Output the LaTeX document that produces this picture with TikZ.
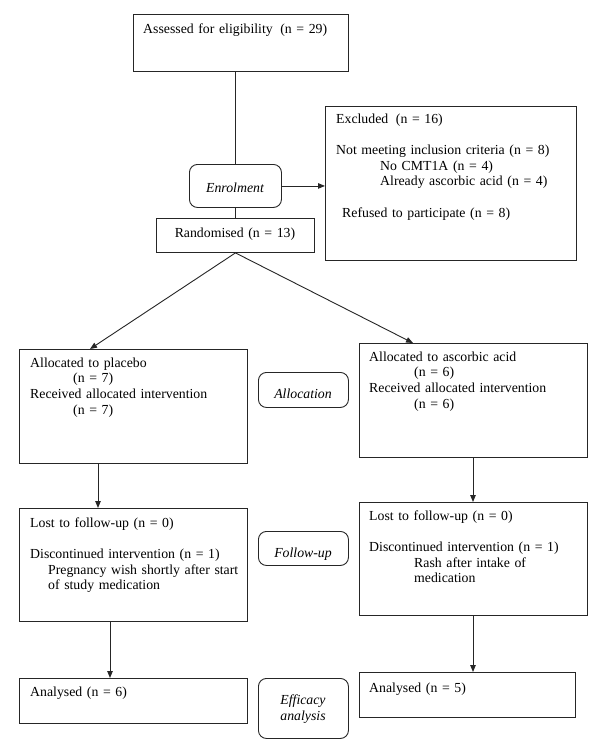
\documentclass[tikz,border=0pt]{standalone}
\usepackage{fontspec}
\setmainfont{Liberation Serif}
\usetikzlibrary{arrows.meta}
\begin{document}
\begin{tikzpicture}[x=1pt,y=-1pt,
  box/.style={draw=black!85, line width=0.9pt, inner sep=0pt, anchor=north west},
  rbox/.style={box, rounded corners=8pt},
  txt/.style={inner sep=0pt, anchor=base west, align=left, text width=#1, font=\fontsize{13.8}{15.7}\selectfont},
  lab/.style={inner sep=0pt, anchor=base, align=center, font=\fontsize{13.8}{15.7}\selectfont\itshape},
  conn/.style={draw=black!85, line width=0.9pt},
  arr/.style={conn, -{Triangle[length=7pt,width=5.5pt]}}
]
\useasboundingbox[fill=white] (0,0) rectangle (600,745);

% boxes
\node[box, minimum width=215pt, minimum height=57pt] (assess) at (133,14) {};
\node[box, minimum width=251pt, minimum height=154pt] (excl) at (325,106) {};
\node[rbox, minimum width=92pt, minimum height=43pt] (enrol) at (189,164) {};
\node[box, minimum width=158pt, minimum height=34pt] (rand) at (156,218) {};
\node[box, minimum width=228pt, minimum height=114pt] (lalloc) at (19,349) {};
\node[box, minimum width=228pt, minimum height=114pt] (ralloc) at (359,343) {};
\node[rbox, minimum width=90pt, minimum height=35pt] (allocb) at (258,372) {};
\node[box, minimum width=228pt, minimum height=113pt] (lfu) at (19,508) {};
\node[box, minimum width=228pt, minimum height=113pt] (rfu) at (359,502) {};
\node[rbox, minimum width=90pt, minimum height=34pt] (fub) at (258,531) {};
\node[box, minimum width=228pt, minimum height=45pt] (lan) at (19,678) {};
\node[box, minimum width=216pt, minimum height=45pt] (ran) at (359,672) {};
\node[rbox, minimum width=90pt, minimum height=60pt] (effb) at (258,678) {};

% texts
\node[txt=210pt] (assesst) at (143,33) {Assessed for eligibility\hspace{3pt} (n = 29)};
\node[txt=235pt] (exclt) at (336,123) {Excluded\hspace{3pt} (n = 16)\\[15.7pt]
Not meeting inclusion criteria (n = 8)\\
\hspace*{44pt}No CMT1A (n = 4)\\
\hspace*{44pt}Already ascorbic acid (n = 4)\\[15.7pt]
\hspace*{6pt}Refused to participate (n = 8)};
\node[lab] (enrolt) at (235,192) {Enrolment};
\node[txt=150pt, align=center, anchor=base] (randt) at (235,237) {Randomised (n = 13)};
\node[txt=215pt] (lallt) at (30,367) {Allocated to placebo\\
\hspace*{43pt}(n = 7)\\
Received allocated intervention\\
\hspace*{43pt}(n = 7)};
\node[txt=215pt] (rallt) at (369,361) {Allocated to ascorbic acid\\
\hspace*{45pt}(n = 6)\\
Received allocated intervention\\
\hspace*{45pt}(n = 6)};
\node[lab] (alloct) at (303,398) {Allocation};
\node[txt=215pt] (lfut) at (30,527) {Lost to follow-up (n = 0)\\[15.7pt]
Discontinued intervention (n = 1)\\
\hspace*{18pt}Pregnancy wish shortly after start\\
\hspace*{18pt}of study medication};
\node[txt=215pt] (rfut) at (369,520) {Lost to follow-up (n = 0)\\[15.7pt]
Discontinued intervention (n = 1)\\
\hspace*{45pt}Rash after intake of\\
\hspace*{45pt}medication};
\node[lab] (fut) at (303,557) {Follow-up};
\node[txt=200pt] (lant) at (30,696) {Analysed (n = 6)};
\node[txt=200pt] (rant) at (369,692) {Analysed (n = 5)};
\node[lab] (efft) at (303,720) {Efficacy\\analysis};

% connectors
\draw[conn] (enrol.north |- assess.south) -- (enrol.north);
\draw[conn] (enrol.south) -- (rand.north);
\draw[arr] (enrol.east) -- (enrol.east -| excl.west);
\draw[arr] (rand.south) -- ([xshift=71pt]lalloc.north west);
\draw[arr] (rand.south) -- ([xshift=54pt]ralloc.north west);
\draw[arr] ([xshift=79pt]lalloc.south west) -- ([xshift=79pt]lfu.north west);
\draw[arr] ([xshift=114pt]ralloc.south west) -- ([xshift=114pt]rfu.north west);
\draw[arr] ([xshift=91pt]lfu.south west) -- ([xshift=91pt]lan.north west);
\draw[arr] ([xshift=114pt]rfu.south west) -- ([xshift=114pt]ran.north west);
\end{tikzpicture}
\end{document}
